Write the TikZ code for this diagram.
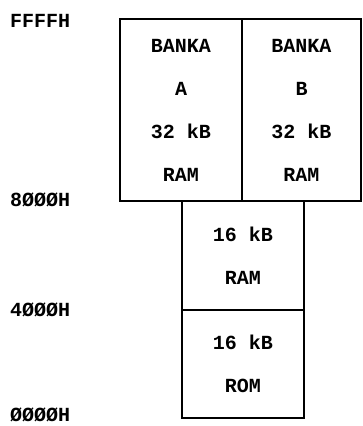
\documentclass[tikz,border=0pt]{standalone}
\usepackage{fontspec}
\setmonofont{Liberation Mono}
\begin{document}
\begin{tikzpicture}[x=1pt,y=-1pt,
  mem/.style={draw, line width=1.6pt, inner sep=0pt, align=center,
    font=\ttfamily\bfseries\fontsize{20}{43}\selectfont},
  addr/.style={anchor=west, inner sep=0pt,
    font=\ttfamily\bfseries\fontsize{20}{24}\selectfont}]
  \useasboundingbox (0,0) rectangle (362,426);
  % upper half: two switchable 32 kB banks
  \node[mem, minimum width=122pt, minimum height=182pt] (bankA) at (181,110)
    {BANKA\\A\\32 kB\\RAM};
  \node[mem, minimum width=119pt, minimum height=182pt] (bankB) at (301.5,110)
    {BANKA\\B\\32 kB\\RAM};
  % lower half: fixed RAM and ROM
  \node[mem, minimum width=122pt, minimum height=109pt] (ram) at (243,255.5)
    {16 kB\\RAM};
  \node[mem, minimum width=122pt, minimum height=108pt] (rom) at (243,364)
    {16 kB\\ROM};
  % address marks
  \node[addr] (aF) at (10,21) {FFFFH};
  \node[addr] (a8) at (10,200) {8ØØØH};
  \node[addr] (a4) at (10,310) {4ØØØH};
  \node[addr] (a0) at (10,415) {ØØØØH};
\end{tikzpicture}
\end{document}
